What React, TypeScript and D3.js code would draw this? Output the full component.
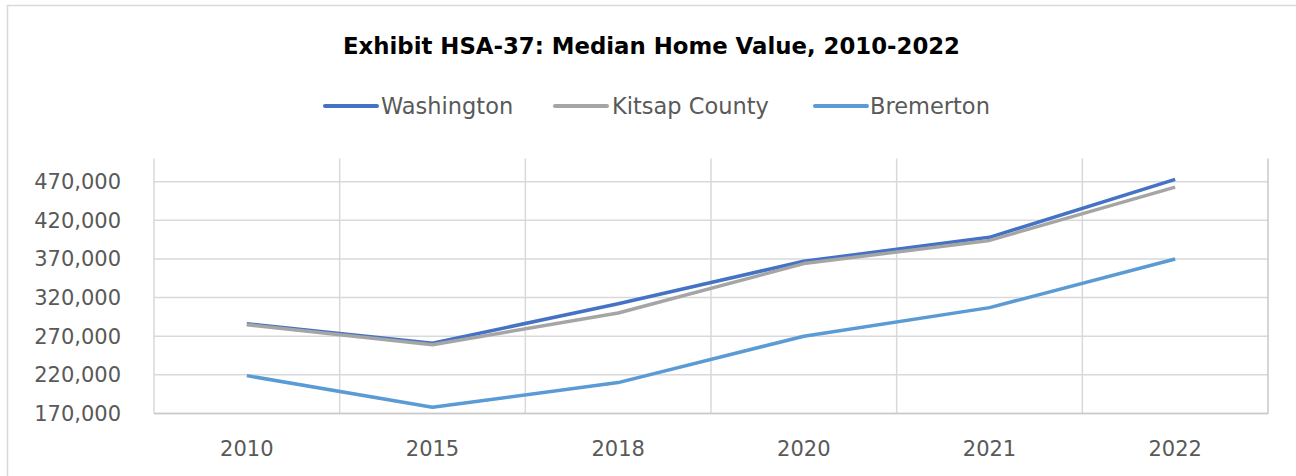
import React from "react";
import * as d3 from "d3";

const years = ["2010", "2015", "2018", "2020", "2021", "2022"];
const washington = [286000, 261000, 312000, 367000, 398000, 473000];
const kitsap = [285000, 259000, 300000, 364000, 394000, 463000];
const bremerton = [219000, 178000, 210000, 270000, 307000, 370000];
const yTicks = [170000, 220000, 270000, 320000, 370000, 420000, 470000];
const seriesNames = ["Washington", "Kitsap County", "Bremerton"];
const seriesColors = ["#4472C4", "#A5A5A5", "#5B9BD5"];
const title = "Exhibit HSA-37: Median Home Value, 2010-2022";

const W = 1296;
const H = 476;
const left = 154;
const right = 1268;
const top = 158.5;
const bottom = 413.5;

export default function App() {
  const x = d3.scaleBand<string>().domain(years).range([left, right]).padding(0);
  const y = d3.scaleLinear().domain([170000, 500000]).range([bottom, top]);
  const cx = (yr: string) => (x(yr) as number) + x.bandwidth() / 2;
  const line = d3
    .line<number>()
    .x((_, i) => cx(years[i]))
    .y((v) => y(v));
  const series = [washington, kitsap, bremerton];
  const grid = "#d9d9d9";
  const textColor = "#595959";
  const font = "'DejaVu Sans', sans-serif";
  const boundaries = years.map((yr) => x(yr) as number).concat([right]);
  const legendPos = [
    { lx: 325, tx: 381 },
    { lx: 555, tx: 612 },
    { lx: 815, tx: 870 },
  ];
  return (
    <svg
      width={W}
      height={H}
      style={{ position: "fixed", left: 0, top: 0, background: "#fff" }}
    >
      <rect x={7.5} y={5.5} width={1400} height={600} fill="#fff" stroke={grid} strokeWidth={1.5} />
      <text
        x={343}
        y={53.5}
        textLength={617}
        lengthAdjust="spacingAndGlyphs"
        fontFamily={font}
        fontWeight={700}
        fontSize={22.5}
        fill="#000"
      >
        {title}
      </text>
      {seriesNames.map((n, i) => (
        <g key={n}>
          <line
            x1={legendPos[i].lx}
            x2={legendPos[i].lx + 52}
            y1={106}
            y2={106}
            stroke={seriesColors[i]}
            strokeWidth={4}
            strokeLinecap="round"
          />
          <text x={legendPos[i].tx} y={114} fontFamily={font} fontSize={22.5} fill={textColor}>
            {n}
          </text>
        </g>
      ))}
      {yTicks.map((t) => (
        <line key={"h" + t} x1={left} x2={right} y1={y(t)} y2={y(t)} stroke={grid} strokeWidth={1.5} />
      ))}
      {boundaries.map((bx, i) => (
        <line
          key={"v" + i}
          x1={bx}
          x2={bx}
          y1={top}
          y2={bottom}
          stroke={i === boundaries.length - 1 ? "#c8c8c8" : grid}
          strokeWidth={1.5}
        />
      ))}
      <line x1={left} x2={right} y1={bottom} y2={bottom} stroke="#c8c8c8" strokeWidth={1.5} />
      {yTicks.map((t) => (
        <text
          key={"yt" + t}
          x={121}
          y={y(t) + 7.5}
          textAnchor="end"
          fontFamily={font}
          fontSize={21}
          fill={textColor}
        >
          {d3.format(",")(t)}
        </text>
      ))}
      {years.map((yr) => (
        <text
          key={"xt" + yr}
          x={cx(yr)}
          y={456}
          textAnchor="middle"
          fontFamily={font}
          fontSize={21}
          fill={textColor}
        >
          {yr}
        </text>
      ))}
      {series.map((s, i) => (
        <path
          key={seriesNames[i]}
          d={line(s) as string}
          fill="none"
          stroke={seriesColors[i]}
          strokeWidth={3.5}
          strokeLinejoin="round"
        />
      ))}
    </svg>
  );
}
